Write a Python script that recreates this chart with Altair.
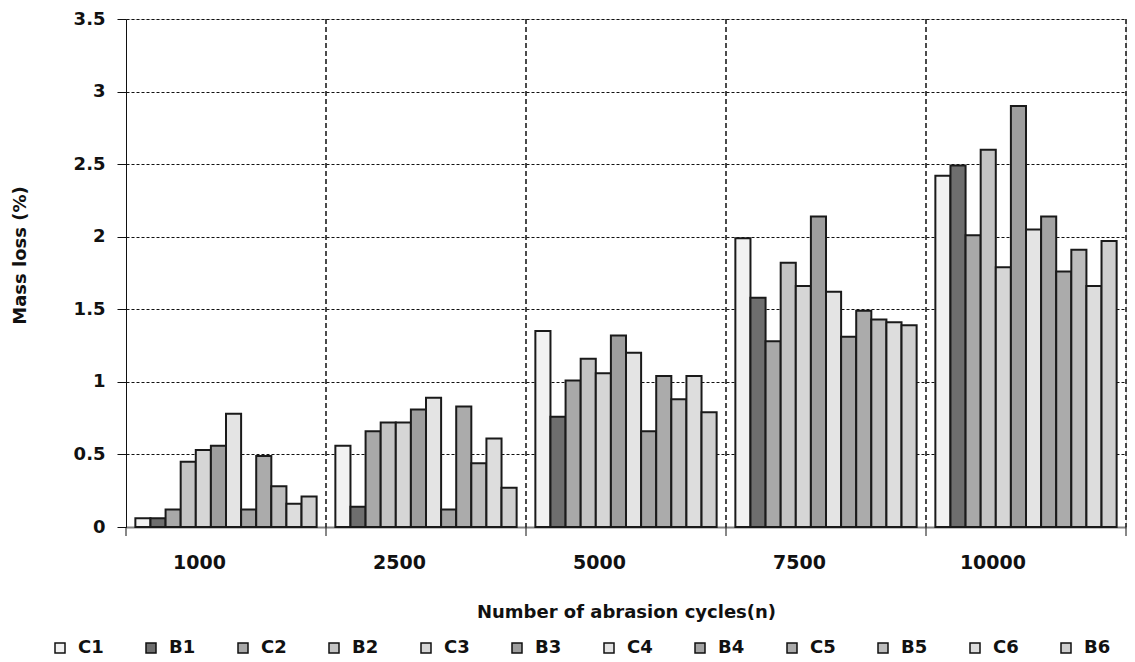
import altair as alt
import pandas as pd

groups = ["1000", "2500", "5000", "7500", "10000"]
series = ["C1", "B1", "C2", "B2", "C3", "B3", "C4", "B4", "C5", "B5", "C6", "B6"]

C1 = [0.06, 0.56, 1.35, 1.99, 2.42]
B1 = [0.06, 0.14, 0.76, 1.58, 2.49]
C2 = [0.12, 0.66, 1.01, 1.28, 2.01]
B2 = [0.45, 0.72, 1.16, 1.82, 2.60]
C3 = [0.53, 0.72, 1.06, 1.66, 1.79]
B3 = [0.56, 0.81, 1.32, 2.14, 2.90]
C4 = [0.78, 0.89, 1.20, 1.62, 2.05]
B4 = [0.12, 0.12, 0.66, 1.31, 2.14]
C5 = [0.49, 0.83, 1.04, 1.49, 1.76]
B5 = [0.28, 0.44, 0.88, 1.43, 1.91]
C6 = [0.16, 0.61, 1.04, 1.41, 1.66]
B6 = [0.21, 0.27, 0.79, 1.39, 1.97]

fills = ["#f2f2f2", "#6e6e6e", "#a9a9a9", "#c4c4c4", "#d6d6d6", "#9e9e9e",
         "#e4e4e4", "#a3a3a3", "#ababab", "#bdbdbd", "#dddddd", "#cfcfcf"]

y_ticks = [0, 0.5, 1, 1.5, 2, 2.5, 3, 3.5]

values = {"C1": C1, "B1": B1, "C2": C2, "B2": B2, "C3": C3, "B3": B3,
          "C4": C4, "B4": B4, "C5": C5, "B5": B5, "C6": C6, "B6": B6}
rows = []
for s in series:
    for g, v in zip(groups, values[s]):
        rows.append({"group": g, "series": s, "value": v})
df = pd.DataFrame(rows)

W, H = 1000, 508
FONT = "DejaVu Sans"

xscale = alt.Scale(domain=groups, paddingInner=0, paddingOuter=0)

bars = alt.Chart(df).mark_bar(stroke="#1a1a1a", strokeWidth=2).encode(
    x=alt.X("group:N", scale=xscale,
            axis=alt.Axis(title="Number of abrasion cycles(n)", labelAngle=0,
                          ticks=False, grid=False, labelPadding=35,
                          labelFontSize=19, labelFont=FONT, labelFontWeight="bold",
                          labelColor="#111",
                          domainColor="#808080", domainWidth=2,
                          titleFontSize=18, titleFont=FONT, titleFontWeight="bold",
                          titleColor="#111", titleY=85, titleBaseline="middle")),
    xOffset=alt.XOffset("series:N", sort=series,
                        scale=alt.Scale(paddingInner=0, paddingOuter=0.62)),
    y=alt.Y("value:Q", scale=alt.Scale(domain=[0, 3.5], nice=False),
            axis=alt.Axis(title="Mass loss (%)", values=y_ticks, format="~g",
                          tickSize=9, tickColor="#111", domainColor="#111",
                          labelPadding=12, labelFontSize=18, labelFont=FONT,
                          labelFontWeight="bold", labelColor="#111",
                          grid=True, gridDash=[3, 2], gridColor="#111", gridWidth=1,
                          titleFontSize=18, titleFont=FONT, titleFontWeight="bold",
                          titleColor="#111", titleX=-106, titleY=236,
                          titleBaseline="middle")),
    fill=alt.Fill("series:N", sort=series,
                  scale=alt.Scale(domain=series, range=fills),
                  legend=alt.Legend(title=None, orient="none", direction="horizontal",
                                    columns=12, legendX=-75, legendY=620,
                                    symbolType="square", symbolSize=100,
                                    symbolStrokeColor="#111", symbolStrokeWidth=1.5,
                                    labelFont=FONT, labelFontSize=18,
                                    labelFontWeight="bold", labelColor="#111",
                                    labelOffset=9, columnPadding=38, padding=0)),
)

bounds = pd.DataFrame({"group": groups[1:]})
vlines = alt.Chart(bounds).mark_rule(color="#111", strokeWidth=1.5,
                                      strokeDash=[5, 3]).encode(
    x=alt.X("group:N", bandPosition=0, scale=xscale),
    y=alt.value(0), y2=alt.value(H))

edge = pd.DataFrame({"e": [1]})
right_line = alt.Chart(edge).mark_rule(color="#111", strokeWidth=1.5,
                                        strokeDash=[5, 3]).encode(
    x=alt.value(W), y=alt.value(0), y2=alt.value(H))

ticks_df = pd.DataFrame({"group": groups})
xticks = alt.Chart(ticks_df).mark_rule(color="#111", strokeWidth=1).encode(
    x=alt.X("group:N", bandPosition=0, scale=xscale),
    y=alt.value(H), y2=alt.value(H + 9))
right_tick = alt.Chart(edge).mark_rule(color="#111", strokeWidth=1).encode(
    x=alt.value(W), y=alt.value(H), y2=alt.value(H + 9))

chart = alt.layer(vlines, right_line, xticks, right_tick, bars).properties(
    width=W, height=H,
    autosize=alt.AutoSizeParams(type="none"),
    padding={"left": 118, "top": 11, "right": 1, "bottom": 134},
).configure_view(stroke=None).configure(background="white")

chart.save("out.html", embed_options={"renderer": "svg", "actions": False})
